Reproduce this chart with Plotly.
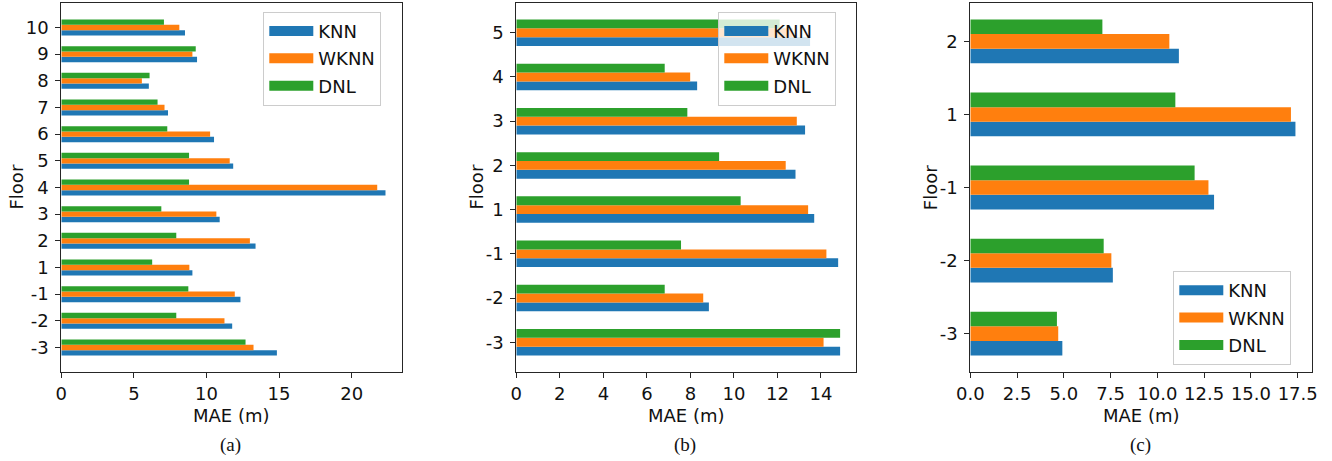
import plotly.graph_objects as go

# ---------------- data ----------------
series_names = ["KNN", "WKNN", "DNL"]
series_colors = ["#1f77b4", "#ff7f0e", "#2ca02c"]

floors_a = ["-3", "-2", "-1", "1", "2", "3", "4", "5", "6", "7", "8", "9", "10"]
knn_a = [14.85, 11.77, 12.34, 9.03, 13.38, 10.91, 22.33, 11.84, 10.52, 7.35, 6.03, 9.35, 8.52]
wknn_a = [13.24, 11.24, 11.95, 8.82, 12.99, 10.68, 21.76, 11.60, 10.25, 7.11, 5.55, 9.03, 8.13]
dnl_a = [12.69, 7.92, 8.75, 6.26, 7.92, 6.89, 8.80, 8.80, 7.30, 6.63, 6.08, 9.26, 7.07]

floors_b = ["-3", "-2", "-1", "1", "2", "3", "4", "5"]
knn_b = [14.88, 8.85, 14.79, 13.69, 12.83, 13.27, 8.31, 13.50]
wknn_b = [14.12, 8.59, 14.25, 13.41, 12.38, 12.89, 7.99, 12.69]
dnl_b = [14.88, 6.82, 7.57, 10.31, 9.32, 7.86, 6.82, 12.10]

floors_c = ["-3", "-2", "-1", "1", "2"]
knn_c = [4.92, 7.62, 13.03, 17.38, 11.15]
wknn_c = [4.70, 7.54, 12.73, 17.14, 10.64]
dnl_c = [4.63, 7.13, 11.99, 10.96, 7.06]

captions = ["(a)", "(b)", "(c)"]
x_title = "MAE (m)"
y_title = "Floor"

# ---------------- figure ----------------
W, H = 1332, 461
fig = go.Figure()

panels = [
    dict(cats=floors_a, vals=[knn_a, wknn_a, dnl_a], px=(61.3, 401.7), dtick=5, fmt="d",
         legend=dict(x=263.3, y=11.7), yfloor=16),
    dict(cats=floors_b, vals=[knn_b, wknn_b, dnl_b], px=(516.3, 856.3), dtick=2, fmt="d",
         legend=dict(x=718.3, y=11.7), yfloor=476),
    dict(cats=floors_c, vals=[knn_c, wknn_c, dnl_c], px=(970.3, 1311.7), dtick=2.5, fmt=".1f",
         legend=dict(x=1173.3, y=271), yfloor=930.7),
]

y_top_px, y_bot_px = 2.7, 372.3
font_main = "DejaVu Sans"
axis_col = "#262626"

for i, p in enumerate(panels):
    k = "" if i == 0 else str(i + 1)
    xa, ya = "x" + k, "y" + k
    leg = "legend" + k
    for name, col, vals in zip(series_names, series_colors, p["vals"]):
        fig.add_trace(go.Bar(
            x=vals, y=p["cats"], orientation="h", name=name,
            marker=dict(color=col, line=dict(width=0)),
            xaxis=xa, yaxis=ya, showlegend=False,
        ))
    # legend entries
    for name, col in zip(series_names, series_colors):
        fig.add_trace(go.Scatter(
            x=[None], y=[None], mode="lines", name=name,
            line=dict(color=col, width=10),
            xaxis=xa, yaxis=ya, legend=leg, legendgroup=name + k,
            showlegend=True,
        ))

    n = len(p["cats"])
    m = 0.05 * (n - 1 + 0.6)
    allv = [v for s in p["vals"] for v in s]
    xdom = [p["px"][0] / W, p["px"][1] / W]
    ydom = [1 - y_bot_px / H, 1 - y_top_px / H]
    common = dict(showline=True, linecolor=axis_col, linewidth=1.1, mirror=True,
                  ticks="outside", ticklen=5, tickwidth=1.1, tickcolor=axis_col,
                  showgrid=False, zeroline=False, automargin=False,
                  tickfont=dict(family=font_main, size=18, color="#111111"))
    fig.update_layout(**{
        "xaxis" + k: dict(domain=xdom, range=[0, max(allv) * 1.05], anchor=ya,
                          dtick=p["dtick"], tick0=0, tickformat=p["fmt"],
                          ticklabelstandoff=0, **common),
        "yaxis" + k: dict(domain=ydom, type="category", categoryorder="array",
                          categoryarray=p["cats"], range=[-0.3 - m, n - 1 + 0.3 + m],
                          anchor=xa, ticklabelstandoff=3, **common),
        leg: dict(x=p["legend"]["x"] / W, y=1 - p["legend"]["y"] / H,
                  xanchor="left", yanchor="top",
                  bgcolor="rgba(255,255,255,0.8)", bordercolor="#cccccc", borderwidth=1,
                  font=dict(family=font_main, size=18, color="#111111"),
                  traceorder="grouped", tracegroupgap=1, itemwidth=44),
    })
    cx = (p["px"][0] + p["px"][1]) / 2 / W
    fig.add_annotation(text=x_title, x=cx, y=1 - 403 / H, xref="paper", yref="paper",
                       showarrow=False, xanchor="center", yanchor="top",
                       font=dict(family=font_main, size=18, color="#111111"))
    fig.add_annotation(text=y_title, x=p["yfloor"] / W, y=1 - (y_top_px + y_bot_px) / 2 / H,
                       xref="paper", yref="paper", textangle=-90,
                       showarrow=False, xanchor="center", yanchor="middle",
                       font=dict(family=font_main, size=18, color="#111111"))
    fig.add_annotation(text=captions[i], x=cx - 1 / W, y=1 - 445 / H, xref="paper", yref="paper",
                       showarrow=False, xanchor="center", yanchor="middle",
                       font=dict(family="Liberation Serif", size=19, color="#111111"))

fig.update_layout(
    width=W, height=H, margin=dict(l=0, r=0, t=0, b=0, autoexpand=False),
    barmode="group", bargap=0.4, bargroupgap=0,
    plot_bgcolor="white", paper_bgcolor="white",
)

fig.write_html(
    "out.html",
    config={"displayModeBar": False},
    post_script="document.body.style.margin='0';document.body.style.overflow='hidden';",
)
